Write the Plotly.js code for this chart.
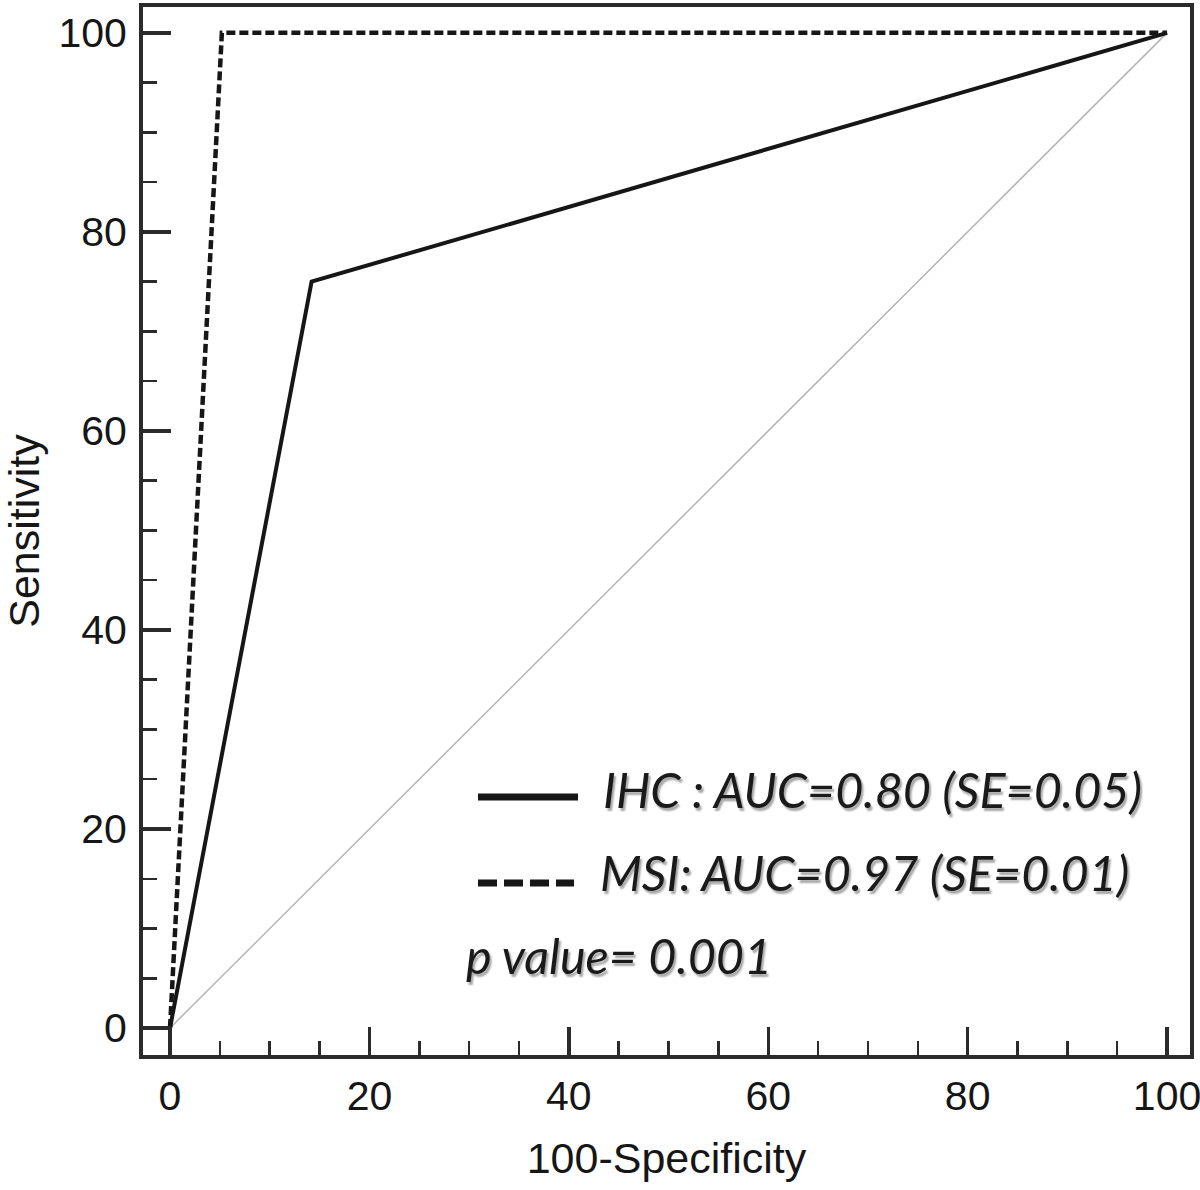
<!DOCTYPE html>
<html>
<head>
<meta charset="utf-8">
<script src="https://cdn.plot.ly/plotly-3.0.1.min.js"></script>
<style>
  html, body { margin: 0; padding: 0; background: #fff; }
  #chart { width: 1200px; height: 1190px; }
</style>
</head>
<body>
<div id="chart"></div>
<script>
// ROC curve data (100-Specificity, Sensitivity)
const ihcX = [0, 14.2, 100];
const ihcY = [0, 75, 100];
const msiX = [0, 5.2, 100];
const msiY = [0, 100, 100];
const refX = [0, 100];
const refY = [0, 100];

const tickVals = [0, 20, 40, 60, 80, 100];
const tickText = ['0', '20', '40', '60', '80', '100'];

const ihcLabel = 'IHC : AUC=0.80 (SE=0.05)';
const msiLabel = 'MSI: AUC=0.97 (SE=0.01)';
const pLabel = 'p value= 0.001';
const xTitle = '100-Specificity';
const yTitle = 'Sensitivity';

const dark = '#161616';
const frame = '#2b2b2b';

const traces = [
  { x: refX, y: refY, mode: 'lines', line: { color: '#b4b4b4', width: 1.5 }, showlegend: false, hoverinfo: 'skip' },
  { x: ihcX, y: ihcY, mode: 'lines', name: ihcLabel, line: { color: dark, width: 4 }, showlegend: false },
  { x: msiX, y: msiY, mode: 'lines', name: msiLabel, line: { color: dark, width: 4.5, dash: '9px,4px' }, showlegend: false }
];

const axisCommon = {
  showgrid: false,
  zeroline: false,
  showline: true,
  mirror: true,
  linecolor: frame,
  linewidth: 4,
  ticks: 'inside',
  ticklen: 28,
  tickwidth: 3.5,
  tickcolor: frame,
  tickmode: 'array',
  tickvals: tickVals,
  ticktext: tickText,
  ticklabeloverflow: 'allow',
  tickfont: { family: 'Liberation Sans, Arial, sans-serif', size: 41, color: dark },
  minor: { dtick: 5, tick0: 0, ticks: 'inside', ticklen: 14, tickwidth: 2.5, tickcolor: frame, showgrid: false },
  fixedrange: true
};

const legendFont = {
  family: 'Lato, Carlito, sans-serif',
  size: 48.5,
  color: '#1a1a1a',
  style: 'italic',
  shadow: '2px 3px 2px rgba(0,0,0,0.35)'
};

const layout = {
  width: 1200,
  height: 1190,
  paper_bgcolor: '#ffffff',
  plot_bgcolor: '#ffffff',
  margin: { l: 143, r: 10, t: 7, b: 135 },
  showlegend: false,
  xaxis: Object.assign({}, axisCommon, {
    range: [-2.71, 102.3],
    ticklabelstandoff: 2,
    title: { text: xTitle, font: { family: 'Liberation Sans, Arial, sans-serif', size: 43, color: dark }, standoff: 26 }
  }),
  yaxis: Object.assign({}, axisCommon, {
    range: [-2.71, 102.6],
    ticklabelstandoff: 4,
    title: { text: yTitle, font: { family: 'Liberation Sans, Arial, sans-serif', size: 43, color: dark }, standoff: 18 }
  }),
  shapes: [
    { type: 'line', xref: 'paper', yref: 'paper', x0: (478 - 143) / 1047, x1: (578 - 143) / 1047, y0: (1055 - 797) / 1048, y1: (1055 - 797) / 1048, line: { color: dark, width: 7 } },
    { type: 'line', xref: 'paper', yref: 'paper', x0: (478 - 143) / 1047, x1: (574 - 143) / 1047, y0: (1055 - 883) / 1048, y1: (1055 - 883) / 1048, line: { color: dark, width: 7, dash: '19px,7px' } }
  ],
  annotations: [
    { xref: 'paper', yref: 'paper', x: (601 - 143) / 1047, y: (1055 - 789) / 1048, xanchor: 'left', yanchor: 'middle', showarrow: false, text: ihcLabel, font: legendFont },
    { xref: 'paper', yref: 'paper', x: (598 - 143) / 1047, y: (1055 - 872) / 1048, xanchor: 'left', yanchor: 'middle', showarrow: false, text: msiLabel, font: legendFont },
    { xref: 'paper', yref: 'paper', x: (464 - 143) / 1047, y: (1055 - 955) / 1048, xanchor: 'left', yanchor: 'middle', showarrow: false, text: pLabel, font: legendFont }
  ]
};

Plotly.newPlot('chart', traces, layout, { displayModeBar: false, staticPlot: true });
</script>
</body>
</html>
